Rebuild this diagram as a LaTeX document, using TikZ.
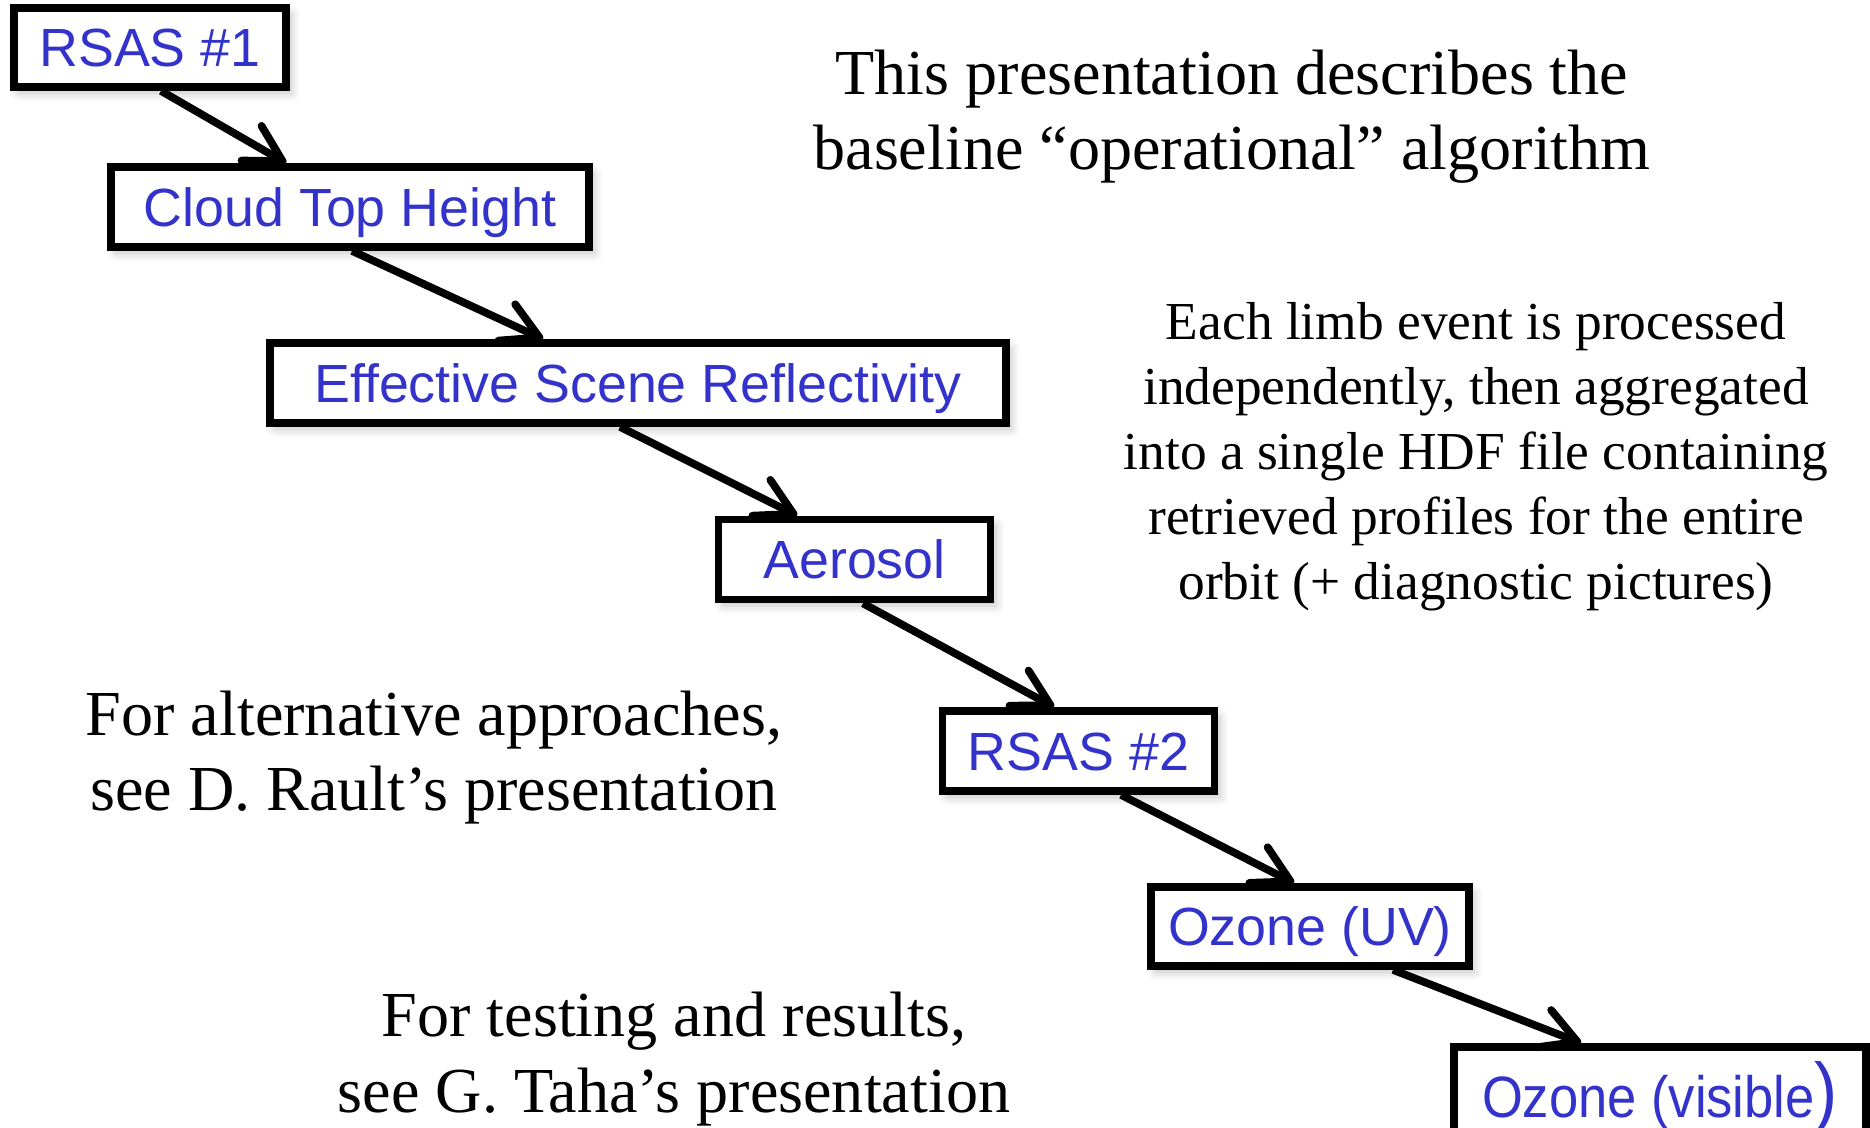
\documentclass[tikz,border=0pt]{standalone}
\usepackage{fontspec}
\setmainfont{Liberation Serif}
\newfontfamily\boxfont{Liberation Sans}
\usetikzlibrary{arrows.meta,shadows.blur}
\definecolor{boxblue}{HTML}{3333CC}

\begin{document}
\begin{tikzpicture}[x=0.1mm, y=-0.1mm,
    box/.style={draw, line width=2.2pt, fill=white, text=boxblue, inner sep=0pt,
      text height=10.95pt, text depth=0pt, minimum height=8mm,
      font=\boxfont\fontsize{15.3}{18}\selectfont,
      blur shadow={shadow xshift=0.5mm, shadow yshift=-0.6mm, shadow blur radius=0.9mm, shadow opacity=25}},
    flow/.style={line width=2.2pt, -{Straight Barb[length=3.6mm, width=4mm, round]}},
    note/.style={align=center, font=\fontsize{18.25}{21.4}\selectfont}]
    \useasboundingbox (0,0) rectangle (1870,1127);

    % draw boxes
    \node[box, minimum width=27.25mm, minimum height=7.9mm] (rsas1) at (150,47.5) {RSAS \#1};
    \node[box, minimum width=47.8mm] (cth) at (350,207) {Cloud Top Height};
    \node[box, minimum width=73.6mm] (esr) at (638,383) {Effective Scene Reflectivity};
    \node[box, minimum width=27.2mm] (aer) at (854.5,559.5) {Aerosol};
    \node[box, minimum width=27.2mm] (rsas2) at (1078.5,751) {RSAS \#2};
    \node[box, minimum width=31.8mm, minimum height=7.9mm] (uv) at (1310,926.5) {Ozone (UV)};
    \node[box, minimum width=41.2mm, minimum height=9.9mm, text height=11.9pt, font=\boxfont\fontsize{16.6}{18}\selectfont]
      (vis) at (1660,1096.5) {\scalebox{0.9}[1]{Ozone (visible{\fontsize{22}{22}\selectfont)}}};

    % draw arrows
    \draw[flow] ([xshift=1.1mm]rsas1.south) -- ([xshift=-6.4mm]cth.north);
    \draw[flow] ([xshift=0.2mm]cth.south) -- ([xshift=-9.5mm]esr.north);
    \draw[flow] ([xshift=-1.8mm]esr.south) -- ([xshift=-5.75mm]aer.north);
    \draw[flow] ([xshift=0.85mm]aer.south) -- ([xshift=-2.45mm]rsas2.north);
    \draw[flow] ([xshift=4.25mm]rsas2.south) -- ([xshift=-1.6mm]uv.north);
    \draw[flow] ([xshift=8.3mm]uv.south) -- ([xshift=-7.9mm]vis.north);

    % draw notes
    \node[note] (intro) at (1232,116.5) {This presentation describes the\\baseline ``operational'' algorithm};
    \node[note, font=\fontsize{15.2}{18.5}\selectfont] (limb) at (1476,457) {Each limb event is processed\\independently, then aggregated\\into a single HDF file containing\\retrieved profiles for the entire\\orbit (+ diagnostic pictures)};
    \node[note] (alt) at (434,757.5) {For alternative approaches,\\see D. Rault’s presentation};
    \node[note] (test) at (674,1059) {For testing and results,\\see G. Taha’s presentation};
\end{tikzpicture}
\end{document}
